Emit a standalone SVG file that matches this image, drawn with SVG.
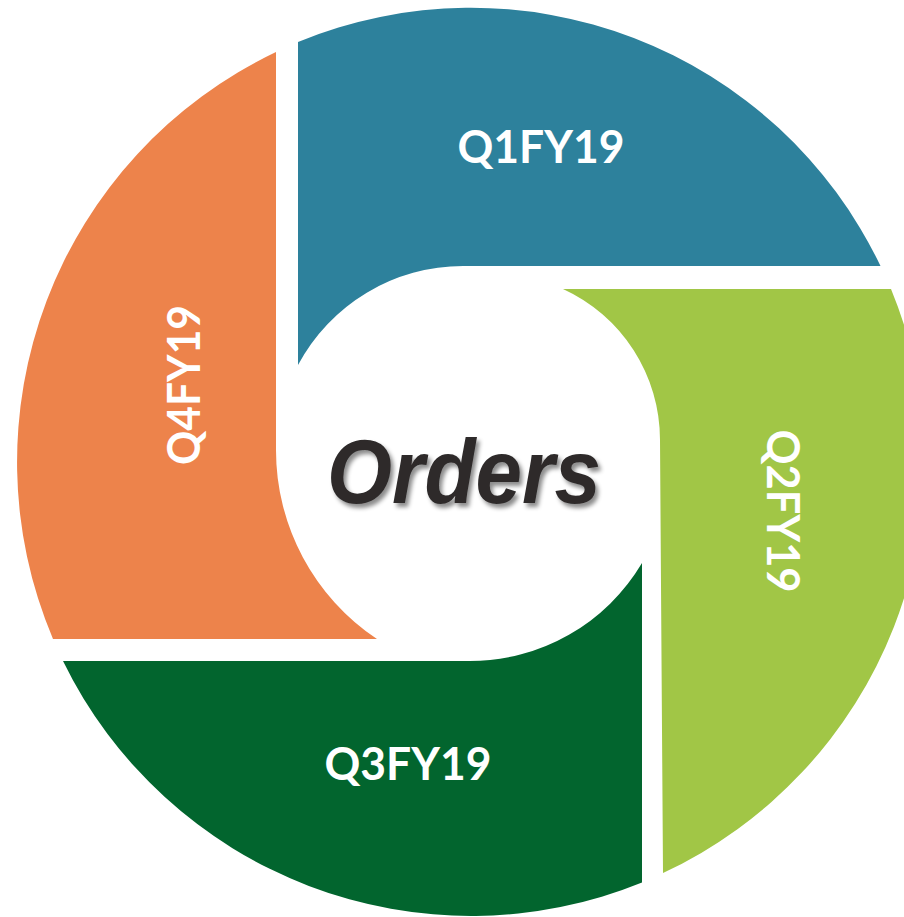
<svg xmlns="http://www.w3.org/2000/svg" width="904" height="917" viewBox="0 0 904 917">
  <defs>
    <filter id="softShadow" x="-10%" y="-20%" width="130%" height="150%">
      <feDropShadow dx="3" dy="4" stdDeviation="2.2" flood-color="#000" flood-opacity="0.45"/>
    </filter>
  </defs>
  <style>
    .label { font-family: Lato, "Open Sans", "Liberation Sans", sans-serif; font-weight: 700; font-size: 45px; fill: #ffffff; }
    .center { font-family: "Liberation Sans", Arial, sans-serif; font-weight: 700; font-style: italic; font-size: 90px; fill: #2e2b2b; }
  </style>
  <rect width="904" height="917" fill="#ffffff"/>

  <!-- Q1: top-right quarter -->
  <g id="q1">
    <path d="M298,42 A454,454 0 0 1 880.5,266 L463,266 A187,187 0 0 0 298,365 Z" fill="#2d819c"/>
    <text class="label" x="541" y="163" text-anchor="middle" textLength="167" lengthAdjust="spacingAndGlyphs">Q1FY19</text>
  </g>

  <!-- Q2: bottom-right quarter -->
  <g id="q2">
    <path d="M563,289 L891,289 A454,454 0 0 1 663,873 L660,440 A166,166 0 0 0 563,289 Z" fill="#a1c646"/>
    <text class="label" transform="translate(767,511) rotate(90)" x="0" y="0" text-anchor="middle" textLength="163" lengthAdjust="spacingAndGlyphs">Q2FY19</text>
  </g>

  <!-- Q3: bottom-left quarter -->
  <g id="q3">
    <path d="M642,563 L642,882.5 A454,454 0 0 1 63,661 L470,661 A200,200 0 0 0 642,563 Z" fill="#02652e"/>
    <text class="label" x="408" y="780" text-anchor="middle" textLength="167" lengthAdjust="spacingAndGlyphs">Q3FY19</text>
  </g>

  <!-- Q4: top-left quarter -->
  <g id="q4">
    <path d="M377,639 L53,639 A454,454 0 0 1 276,52 L276,450 A227,227 0 0 0 377,639 Z" fill="#ed834b"/>
    <text class="label" transform="translate(200,385) rotate(-90)" x="0" y="0" text-anchor="middle" textLength="160" lengthAdjust="spacingAndGlyphs">Q4FY19</text>
  </g>

  <!-- centre title -->
  <g id="orders">
    <text class="center" x="327" y="503" textLength="274" lengthAdjust="spacingAndGlyphs" filter="url(#softShadow)">Orders</text>
  </g>
</svg>
